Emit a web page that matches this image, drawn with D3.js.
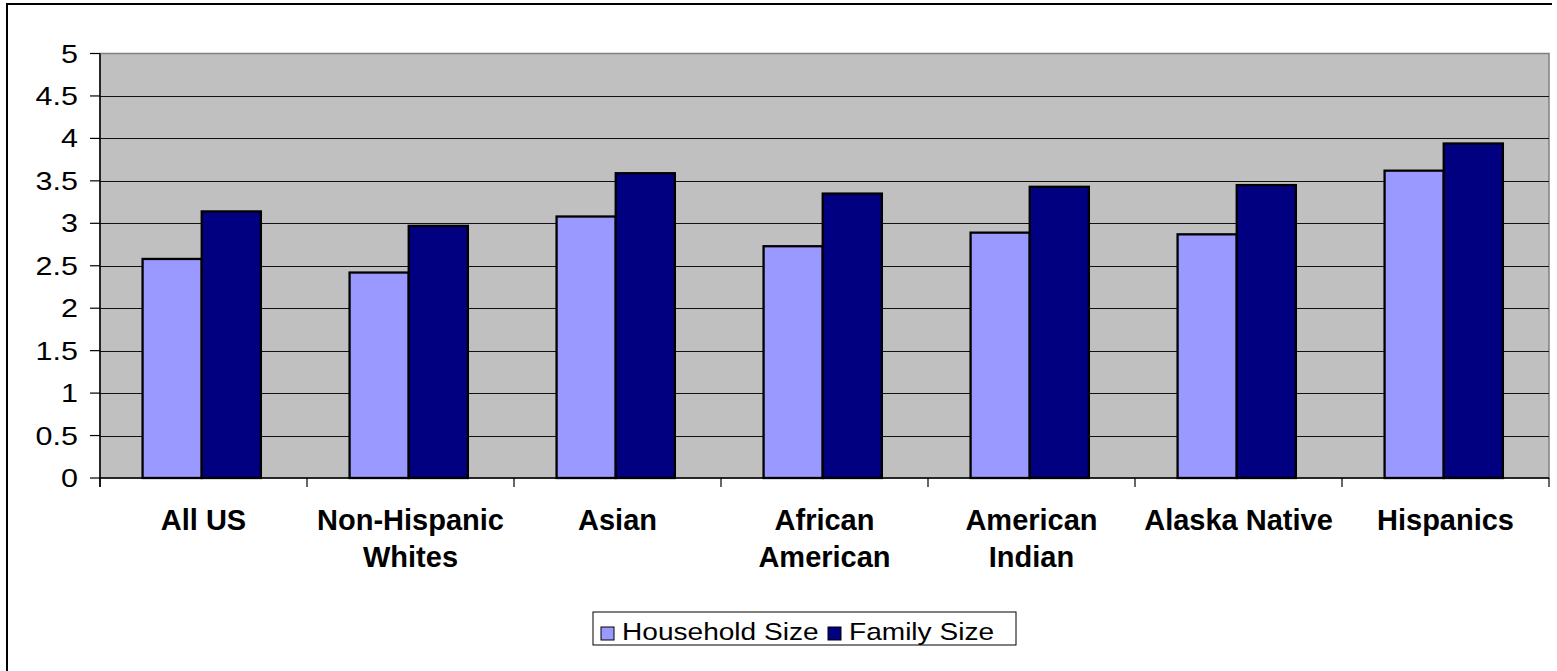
<!DOCTYPE html>
<html>
<head>
<meta charset="utf-8">
<script src="https://cdn.jsdelivr.net/npm/d3@7"></script>
<style>
  body { margin: 0; background: #fff; }
  text { font-family: Arial, "Liberation Sans", sans-serif; }
</style>
</head>
<body>
<div id="chart"></div>
<script>
var categories = ["All US", "Non-Hispanic Whites", "Asian", "African American", "American Indian", "Alaska Native", "Hispanics"];
var tickLines = [["All US"], ["Non-Hispanic", "Whites"], ["Asian"], ["African", "American"], ["American", "Indian"], ["Alaska Native"], ["Hispanics"]];
var seriesNames = ["Household Size", "Family Size"];
var householdSize = [2.58, 2.42, 3.08, 2.73, 2.89, 2.87, 3.62];
var familySize = [3.14, 2.97, 3.59, 3.35, 3.43, 3.45, 3.94];
var yTicks = [0, 0.5, 1, 1.5, 2, 2.5, 3, 3.5, 4, 4.5, 5];
var colors = ["#9999FF", "#000080"];

var width = 1557, height = 671;
var plotLeft = 100, plotRight = 1549, plotTop = 53.5, plotBottom = 478;

var svg = d3.select("#chart").append("svg")
    .attr("width", width)
    .attr("height", height);

// outer chart border (only top and left visible)
svg.append("path")
    .attr("d", "M7,672 L7,4 L1552,4")
    .attr("fill", "none")
    .attr("stroke", "#000")
    .attr("stroke-width", 2);

var x = d3.scaleBand()
    .domain(categories)
    .range([plotLeft, plotRight]);

var bw = x.bandwidth();
var xs = d3.scaleBand()
    .domain(seriesNames)
    .range([bw * 0.72 / 3.5, bw * 2.72 / 3.5]);

var y = d3.scaleLinear()
    .domain([0, 5])
    .range([plotBottom, plotTop]);

// plot background
svg.append("rect")
    .attr("x", plotLeft).attr("y", plotTop)
    .attr("width", plotRight - plotLeft).attr("height", plotBottom - plotTop)
    .attr("fill", "#C0C0C0")
    .attr("stroke", "#808080")
    .attr("stroke-width", 1.5);

// gridlines
svg.append("g")
  .selectAll("line")
  .data(yTicks.filter(function(d) { return d > 0 && d < 5; }))
  .enter().append("line")
    .attr("x1", plotLeft).attr("x2", plotRight)
    .attr("y1", function(d) { return Math.round(y(d)) + 0.5; })
    .attr("y2", function(d) { return Math.round(y(d)) + 0.5; })
    .attr("stroke", "#111")
    .attr("stroke-width", 1);

var data = categories.map(function(c, i) {
  return { cat: c, values: [householdSize[i], familySize[i]] };
});

var groups = svg.selectAll(".grp")
    .data(data)
  .enter().append("g")
    .attr("class", "grp")
    .attr("transform", function(d) { return "translate(" + x(d.cat) + ",0)"; });

groups.selectAll("rect")
    .data(function(d) { return d.values.map(function(v, j) { return { name: seriesNames[j], v: v, j: j }; }); })
  .enter().append("rect")
    .attr("x", function(d) { return xs(d.name); })
    .attr("y", function(d) { return y(d.v); })
    .attr("width", xs.bandwidth())
    .attr("height", function(d) { return y(0) - y(d.v); })
    .attr("fill", function(d) { return colors[d.j]; })
    .attr("stroke", "#000")
    .attr("stroke-width", 2.3);

// y axis
var yAxis = svg.append("g");
yAxis.append("line")
    .attr("x1", plotLeft).attr("x2", plotLeft)
    .attr("y1", plotTop).attr("y2", plotBottom + 9)
    .attr("stroke", "#000").attr("stroke-width", 1.5);
yAxis.selectAll(".yt")
    .data(yTicks)
  .enter().append("line")
    .attr("x1", plotLeft - 10).attr("x2", plotLeft)
    .attr("y1", function(d) { return y(d); })
    .attr("y2", function(d) { return y(d); })
    .attr("stroke", "#000").attr("stroke-width", 1.2);
yAxis.selectAll(".yl")
    .data(yTicks)
  .enter().append("text")
    .attr("transform", function(d) { return "translate(78," + (y(d) + 9) + ") scale(1.22,1)"; })
    .attr("text-anchor", "end")
    .attr("font-size", 25)
    .attr("fill", "#000")
    .text(function(d) { return d; });

// x axis
var xAxis = svg.append("g");
xAxis.append("line")
    .attr("x1", plotLeft).attr("x2", plotRight)
    .attr("y1", plotBottom).attr("y2", plotBottom)
    .attr("stroke", "#000").attr("stroke-width", 1.5);
var bounds = categories.map(function(c) { return x(c); }).concat([plotRight]);
xAxis.selectAll(".xt")
    .data(bounds)
  .enter().append("line")
    .attr("x1", function(d) { return d; }).attr("x2", function(d) { return d; })
    .attr("y1", plotBottom).attr("y2", plotBottom + 9)
    .attr("stroke", "#000").attr("stroke-width", 1.2);

var xl = xAxis.selectAll(".xl")
    .data(categories)
  .enter().append("text")
    .attr("text-anchor", "middle")
    .attr("font-size", 29)
    .attr("font-weight", "bold")
    .attr("fill", "#000");
xl.each(function(c, i) {
  var t = d3.select(this);
  tickLines[i].forEach(function(line, k) {
    t.append("tspan")
      .attr("x", x(c) + bw / 2)
      .attr("y", 530 + k * 37)
      .text(line);
  });
});

// legend
var legend = svg.append("g");
legend.append("rect")
    .attr("x", 593).attr("y", 612)
    .attr("width", 423).attr("height", 33)
    .attr("fill", "#fff")
    .attr("stroke", "#000").attr("stroke-width", 1);
var legX = [601, 828];
var legTx = [622, 849];
seriesNames.forEach(function(s, j) {
  legend.append("rect")
      .attr("x", legX[j]).attr("y", 627)
      .attr("width", 13).attr("height", 13)
      .attr("fill", colors[j])
      .attr("stroke", "#000").attr("stroke-width", 1);
  legend.append("text")
      .attr("transform", "translate(" + legTx[j] + ",640) scale(1.17,1)")
      .attr("font-size", 24)
      .attr("fill", "#000")
      .text(s);
});
</script>
</body>
</html>
